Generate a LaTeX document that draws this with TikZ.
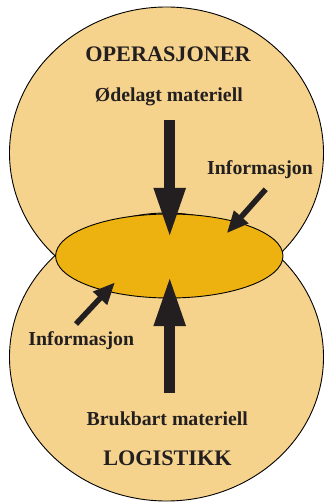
\documentclass[tikz,border=0pt]{standalone}
\usepackage{fontspec}
\setmainfont{Liberation Serif}
\usetikzlibrary{arrows.meta,shapes.geometric}
\definecolor{disc}{RGB}{245,211,141}
\definecolor{core}{RGB}{237,177,16}
\definecolor{ink}{RGB}{35,31,32}

\begin{document}
\begin{tikzpicture}[x=1pt,y=-1pt,
  area/.style={ellipse, draw=black, line width=0.9pt, inner sep=0pt},
  label/.style={font=\bfseries\fontsize{19.8}{22}\selectfont, text=ink, inner sep=0pt, anchor=base},
  heading/.style={font=\bfseries\fontsize{22.2}{26}\selectfont, text=ink, inner sep=0pt, anchor=base},
  bigarrow/.style={draw=ink, line width=10.7pt, -{Triangle[length=50pt,width=29pt]}},
  smallarrow/.style={draw=ink, line width=5.5pt, -{Triangle[length=22pt,width=18pt]}}]
\useasboundingbox (0,0) rectangle (324,502);

% the two domains and their shared zone
\node[area, fill=disc, minimum width=314pt, minimum height=292pt] (ops) at (166.5,153) {};
\node[area, fill=disc, minimum width=314pt, minimum height=288pt] (log) at (166.5,357) {};
\node[area, fill=core, minimum width=227.4pt, minimum height=84pt] (core) at (169.3,256) {};

% texts
\node[heading] (opsname) at (168,62) {OPERASJONER};
\node[label] (broken) at (168.8,101.5) {Ødelagt materiell};
\node[label] (infoR) at (260,175) {Informasjon};
\node[label] (infoL) at (81.3,345.5) {Informasjon};
\node[label] (usable) at (167.3,425) {Brukbart materiell};
\node[heading] (logname) at (167.5,465) {LOGISTIKK};

% arrow ends
\coordinate (topTail) at (169.7,120);
\coordinate (topTip) at (169.7,238);
\coordinate (botTail) at (169.7,393);
\coordinate (botTip) at (169.7,276);
\coordinate (rTail) at (265.7,189.3);
\coordinate (rTip) at (226.7,233.3);
\coordinate (lTail) at (76,324);
\coordinate (lTip) at (115,282.3);

\draw[bigarrow] (topTail) -- (topTip);
\draw[bigarrow] (botTail) -- (botTip);
\draw[smallarrow] (rTail) -- (rTip);
\draw[smallarrow] (lTail) -- (lTip);
\end{tikzpicture}
\end{document}
